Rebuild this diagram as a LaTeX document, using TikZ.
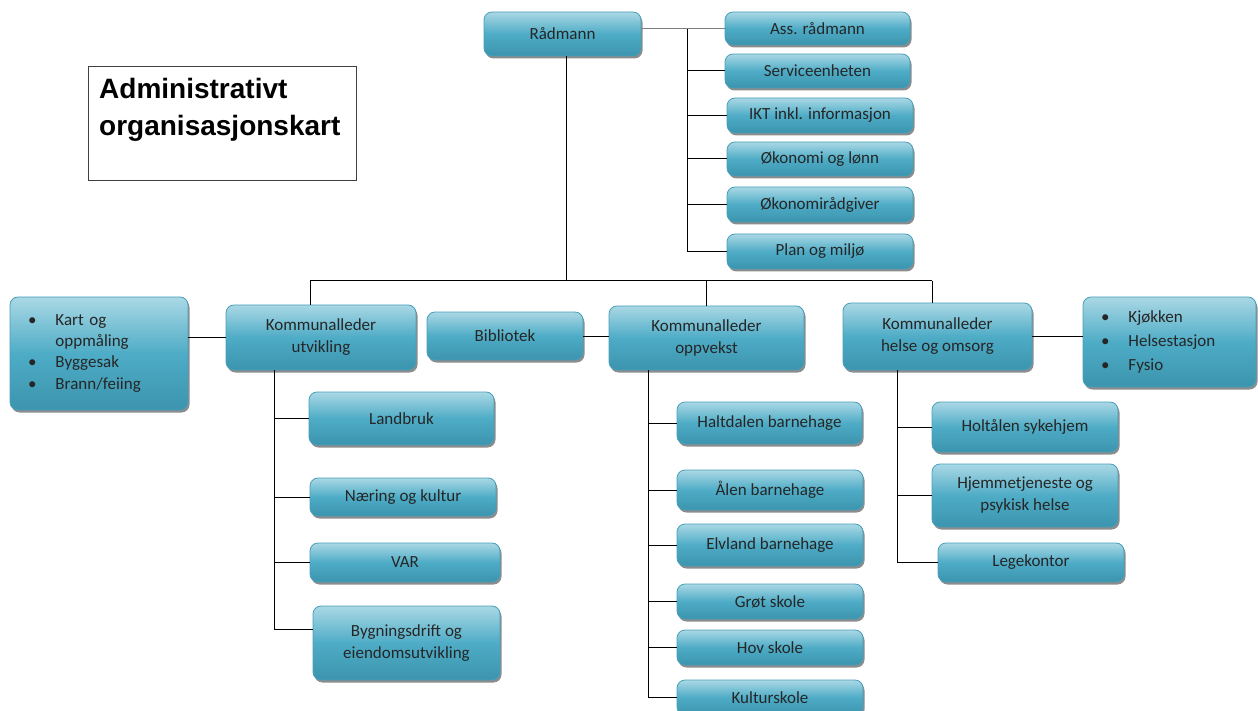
\documentclass[tikz,border=0pt]{standalone}
\usepackage{fontspec}
\setmainfont{Carlito}
\newfontfamily\titlefont{Liberation Sans}
\usetikzlibrary{shadows}
\definecolor{boxtop}{RGB}{170,216,229}
\definecolor{boxmid}{RGB}{78,172,198}
\definecolor{boxbot}{RGB}{60,148,174}
\definecolor{boxline}{RGB}{72,158,184}
\tikzset{
  orgbox/.style={draw=boxline, line width=0.8pt, rounded corners=8pt,
    top color=boxtop, bottom color=boxbot, middle color=boxmid,
    drop shadow={shadow xshift=1.5pt, shadow yshift=-2.5pt, fill=black!75, opacity=0.6},
    align=center, font=\fontsize{17}{22}\selectfont, inner sep=2pt, text=black!85},
  listbox/.style={orgbox, align=left, inner xsep=18pt},
  conn/.style={draw=black, line width=1pt},
}
\begin{document}
\begin{tikzpicture}[x=1pt,y=-1pt]
\useasboundingbox (0,0) rectangle (1258,711);
% title
\node[draw=black!75, line width=1pt, minimum width=268, minimum height=114, anchor=north west, inner sep=0pt] (titlebox) at (88,66) {};
\node[anchor=north west, align=left, inner sep=0pt, font=\titlefont\bfseries\fontsize{28}{37.5}\selectfont] (title) at (99,78) {Administrativt\\organisasjonskart};
% top level
\node[orgbox, minimum width=157, minimum height=44] (rad) at (562.5,34) {Rådmann};
\node[orgbox, minimum width=185, minimum height=33] (ass) at (817.5,28.5) {Ass. rådmann};
\node[orgbox, minimum width=185, minimum height=34] (ser) at (817.5,71) {Serviceenheten};
\node[orgbox, minimum width=186, minimum height=35] (ikt) at (820,115.5) {IKT inkl. informasjon};
\node[orgbox, minimum width=186, minimum height=34] (oko) at (820,159) {Økonomi og lønn};
\node[orgbox, minimum width=186, minimum height=35] (okr) at (820,204.5) {Økonomirådgiver};
\node[orgbox, minimum width=186, minimum height=35] (plan) at (820,251.5) {Plan og miljø};
% second level
\node[listbox, minimum width=178, minimum height=113, text width=142, font=\fontsize{17}{20.5}\selectfont] (kart) at (99,353.5)
  {\raisebox{-3pt}{\begin{tabular}{@{}l@{\hspace{19pt}}l@{}}\textbullet&Kart og\\&oppmåling\\[1pt]\textbullet&Byggesak\\[1pt]\textbullet&Brann/feiing\end{tabular}}};
\node[orgbox, minimum width=190, minimum height=65] (utv) at (321,337.5) {Kommunalleder\\utvikling};
\node[orgbox, minimum width=156, minimum height=48] (bib) at (505,336) {Bibliotek};
\node[orgbox, minimum width=195, minimum height=64] (opp) at (706.5,338) {Kommunalleder\\oppvekst};
\node[orgbox, minimum width=189, minimum height=67] (hel) at (937.5,336.5) {Kommunalleder\\helse og omsorg};
\node[listbox, minimum width=173, minimum height=90, text width=137, font=\fontsize{17}{24}\selectfont] (kjo) at (1169.5,342)
  {\raisebox{-4pt}{\begin{tabular}{@{}l@{\hspace{19pt}}l@{}}\textbullet&Kjøkken\\\textbullet&Helsestasjon\\\textbullet&Fysio\end{tabular}}};
% utvikling
\node[orgbox, minimum width=185, minimum height=53] (lan) at (401.5,418.5) {Landbruk};
\node[orgbox, minimum width=186, minimum height=38] (nae) at (403,497) {Næring og kultur};
\node[orgbox, minimum width=190, minimum height=39] (var) at (405,562.5) {VAR};
\node[orgbox, minimum width=187, minimum height=74] (byg) at (406.5,643) {Bygningsdrift og\\eiendomsutvikling};
% oppvekst
\node[orgbox, minimum width=185, minimum height=42] (hal) at (769.5,423) {Haltdalen barnehage};
\node[orgbox, minimum width=186, minimum height=40] (ale) at (770,490) {Ålen barnehage};
\node[orgbox, minimum width=186, minimum height=42] (elv) at (770,545) {Elvland barnehage};
\node[orgbox, minimum width=186, minimum height=35] (gro) at (770,601.5) {Grøt skole};
\node[orgbox, minimum width=186, minimum height=35] (hov) at (770,647.5) {Hov skole};
\node[orgbox, minimum width=186, minimum height=35] (kul) at (770,697.5) {Kulturskole};
% helse
\node[orgbox, minimum width=186, minimum height=50] (hol) at (1025,427) {Holtålen sykehjem};
\node[orgbox, minimum width=186, minimum height=63] (hje) at (1025,495.5) {Hjemmetjeneste og\\psykisk helse};
\node[orgbox, minimum width=186, minimum height=39] (leg) at (1031,562.5) {Legekontor};
% connectors top
\coordinate (rv) at (687,29);
\draw[conn, draw=gray] (rad.east |- ass.west) -- (ass.west);
\draw[conn] (rv) -- (rv |- plan.west) -- (plan.west);
\foreach \n in {ser,ikt,oko,okr} \draw[conn] (rv |- \n.west) -- (\n.west);
% main bus
\coordinate (rd) at (566,281);
\coordinate (mbL) at (310,281);
\coordinate (mbR) at (932,281);
\draw[conn] (rad.south -| rd) -- (rd);
\draw[conn] (mbL) -- (mbR);
\draw[conn] (mbL) -- (mbL |- utv.north);
\draw[conn] (opp.north |- mbL) -- (opp.north);
\draw[conn] (mbR) -- (mbR |- hel.north);
% side links
\draw[conn] (kart.east |- utv.west) -- (utv.west);
\draw[conn] (bib.east) -- (bib.east -| opp.west);
\draw[conn] (hel.east) -- (hel.east -| kjo.west);
% utvikling branch
\coordinate (uv) at (274,370);
\coordinate (ub) at (274,629);
\draw[conn] (uv) -- (ub) -- (ub -| byg.west);
\foreach \n in {lan,nae,var} \draw[conn] (uv |- \n.west) -- (\n.west);
% oppvekst branch
\coordinate (ov) at (648,370);
\draw[conn] (ov) -- (ov |- kul.west) -- (kul.west);
\foreach \n in {hal,ale,elv,gro,hov} \draw[conn] (ov |- \n.west) -- (\n.west);
% helse branch
\coordinate (hv) at (897,370);
\draw[conn] (hv) -- (hv |- leg.west) -- (leg.west);
\foreach \n in {hol,hje} \draw[conn] (hv |- \n.west) -- (\n.west);
\end{tikzpicture}
\end{document}
